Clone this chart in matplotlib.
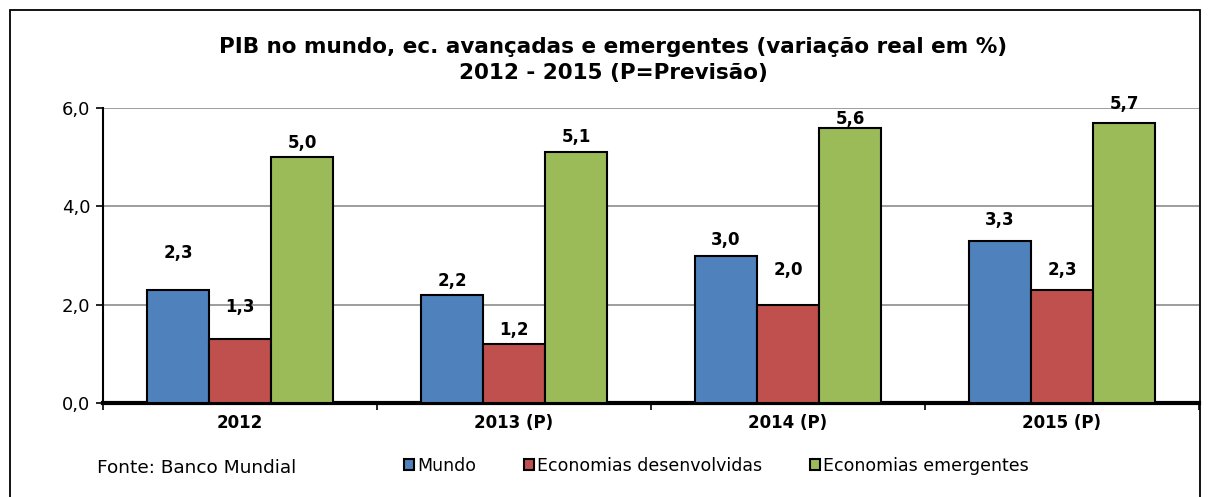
import matplotlib
matplotlib.use("Agg")
import matplotlib.pyplot as plt
import numpy as np
from matplotlib.patches import Patch, Rectangle

# data
years = ["2012", "2013 (P)", "2014 (P)", "2015 (P)"]
mundo = [2.3, 2.2, 3.0, 3.3]
desenvolvidas = [1.3, 1.2, 2.0, 2.3]
emergentes = [5.0, 5.1, 5.6, 5.7]
series_names = ["Mundo", "Economias desenvolvidas", "Economias emergentes"]
yticks = [0.0, 2.0, 4.0, 6.0]

colors = ["#4F81BD", "#C0504D", "#9BBB59"]
# vertical lift of each value label above its bar (pixels), as placed in the original
label_lift = [
    [37, 14, 15, 21],
    [32, 14, 35, 20],
    [14, 15, 9, 19],
]

plt.rcParams["font.family"] = "DejaVu Sans"

W, H = 1209, 497
fig = plt.figure(figsize=(W / 100, H / 100), dpi=100)

# outer chart frame (bottom edge falls outside the image)
fig.patches.append(Rectangle((10 / W, -0.05), 1190 / W, 1.05 - 10 / H,
                             transform=fig.transFigure, fill=False,
                             edgecolor="black", linewidth=1.3))

ax = fig.add_axes([103 / W, 1 - 403 / H, 1096 / W, 295 / H])

x = np.arange(len(years))
bw = 0.2263
offsets = [-bw, 0, bw]
for i, (vals, col) in enumerate(zip([mundo, desenvolvidas, emergentes], colors)):
    bars = ax.bar(x + offsets[i], vals, width=bw, color=col,
                  edgecolor="black", linewidth=1.5, zorder=3)
    for j, (b, v) in enumerate(zip(bars, vals)):
        ax.annotate(f"{v:.1f}".replace(".", ","),
                    (b.get_x() + b.get_width() / 2, v),
                    xytext=(0, label_lift[i][j] * 0.72), textcoords="offset points",
                    ha="center", va="center", fontsize=12, fontweight="bold",
                    zorder=5)

ax.set_xlim(-0.5, len(years) - 0.5)
ax.set_ylim(0, 6)
ax.set_yticks(yticks)
ax.set_yticklabels([f"{t:.1f}".replace(".", ",") for t in yticks], fontsize=13)
ax.set_xticks(x)
ax.set_xticklabels(years, fontsize=12, fontweight="bold")
ax.set_xticks(np.arange(-0.5, len(years)), minor=True)
ax.tick_params(axis="x", which="major", length=0, pad=8)
ax.tick_params(axis="x", which="minor", length=5, width=1.2, direction="out")
ax.tick_params(axis="y", length=5, width=1.2, direction="out", pad=4)

ax.grid(axis="y", color="#8c8c8c", linewidth=1.2, zorder=0)
ax.set_axisbelow(True)
for s in ["top", "right"]:
    ax.spines[s].set_visible(False)
ax.spines["left"].set_linewidth(1.5)
ax.spines["bottom"].set_linewidth(3)

fig.text(613 / W, 1 - 60 / H,
         "PIB no mundo, ec. avançadas e emergentes (variação real em %)\n2012 - 2015 (P=Previsão)",
         ha="center", va="center", fontsize=15.5, fontweight="bold", linespacing=1.4)

fig.text(97 / W, 1 - 468 / H, "Fonte: Banco Mundial", ha="left", va="center", fontsize=13.3)

handles = [Patch(facecolor=c, edgecolor="black", linewidth=1.5) for c in colors]
fig.legend(handles, series_names, loc="center left",
           bbox_to_anchor=(404 / W, 1 - 466 / H), ncol=3, frameon=False,
           fontsize=12.5, handlelength=0.6, handleheight=0.6, handletextpad=0.15,
           columnspacing=2.75, borderaxespad=0, borderpad=0)

fig.savefig("out.png", dpi=100)
